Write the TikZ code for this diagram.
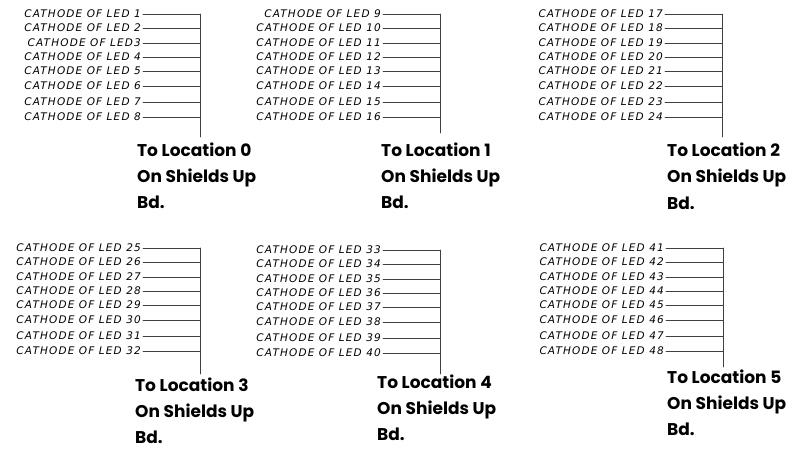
\documentclass[tikz,border=0pt]{standalone}
\usepackage{fontspec}
\newfontfamily\ledfont[LetterSpace=11]{DejaVu Sans}
\newfontfamily\locfont{Poppins}
\tikzset{
	ledlabel/.style={anchor=east, inner xsep=2pt, inner ysep=0pt, font=\ledfont\itshape\fontsize{10.5}{11}\selectfont},
	wire/.style={line width=0.6pt, black!75},
	loclabel/.style={anchor=base west, inner sep=0pt, align=left, font=\locfont\bfseries\fontsize{17}{26}\selectfont}
}
\begin{document}
\begin{tikzpicture}[x=1pt, y=-1pt, line cap=round]
	\useasboundingbox (0,0) rectangle (792,449);
	\foreach \g/\bx/\dy/\len/\tx/\ty in {0/200/0/123/137/156, 1/440/0/119/381/156, 2/722/0/123/667/157, 3/200/234/126/135/391, 4/440/236/124/377/388, 5/723/234/119/667/383} {
		\pgfmathtruncatemacro{\first}{8*\g+1}
		\foreach \r/\y in {1/14, 2/28, 3/43, 4/57, 5/71, 6/86, 7/102, 8/117} {
			\pgfmathtruncatemacro{\n}{8*\g+\r}
			\coordinate (tap\n) at (\bx,\y+\dy);
			\node[ledlabel] (led\n) at (\bx-57,\y+\dy) {CATHODE OF LED\ifnum\n=3\else\ \fi\n};
			\draw[wire] (led\n) -- (tap\n);
		}
		\coordinate (busend\g) at (\bx,14+\dy+\len);
		\draw[wire] (tap\first) -- (busend\g);
		\node[loclabel] (loc\g) at (\tx,\ty+52) {To Location \g\\On Shields Up\\Bd.};
	}
\end{tikzpicture}
\end{document}
